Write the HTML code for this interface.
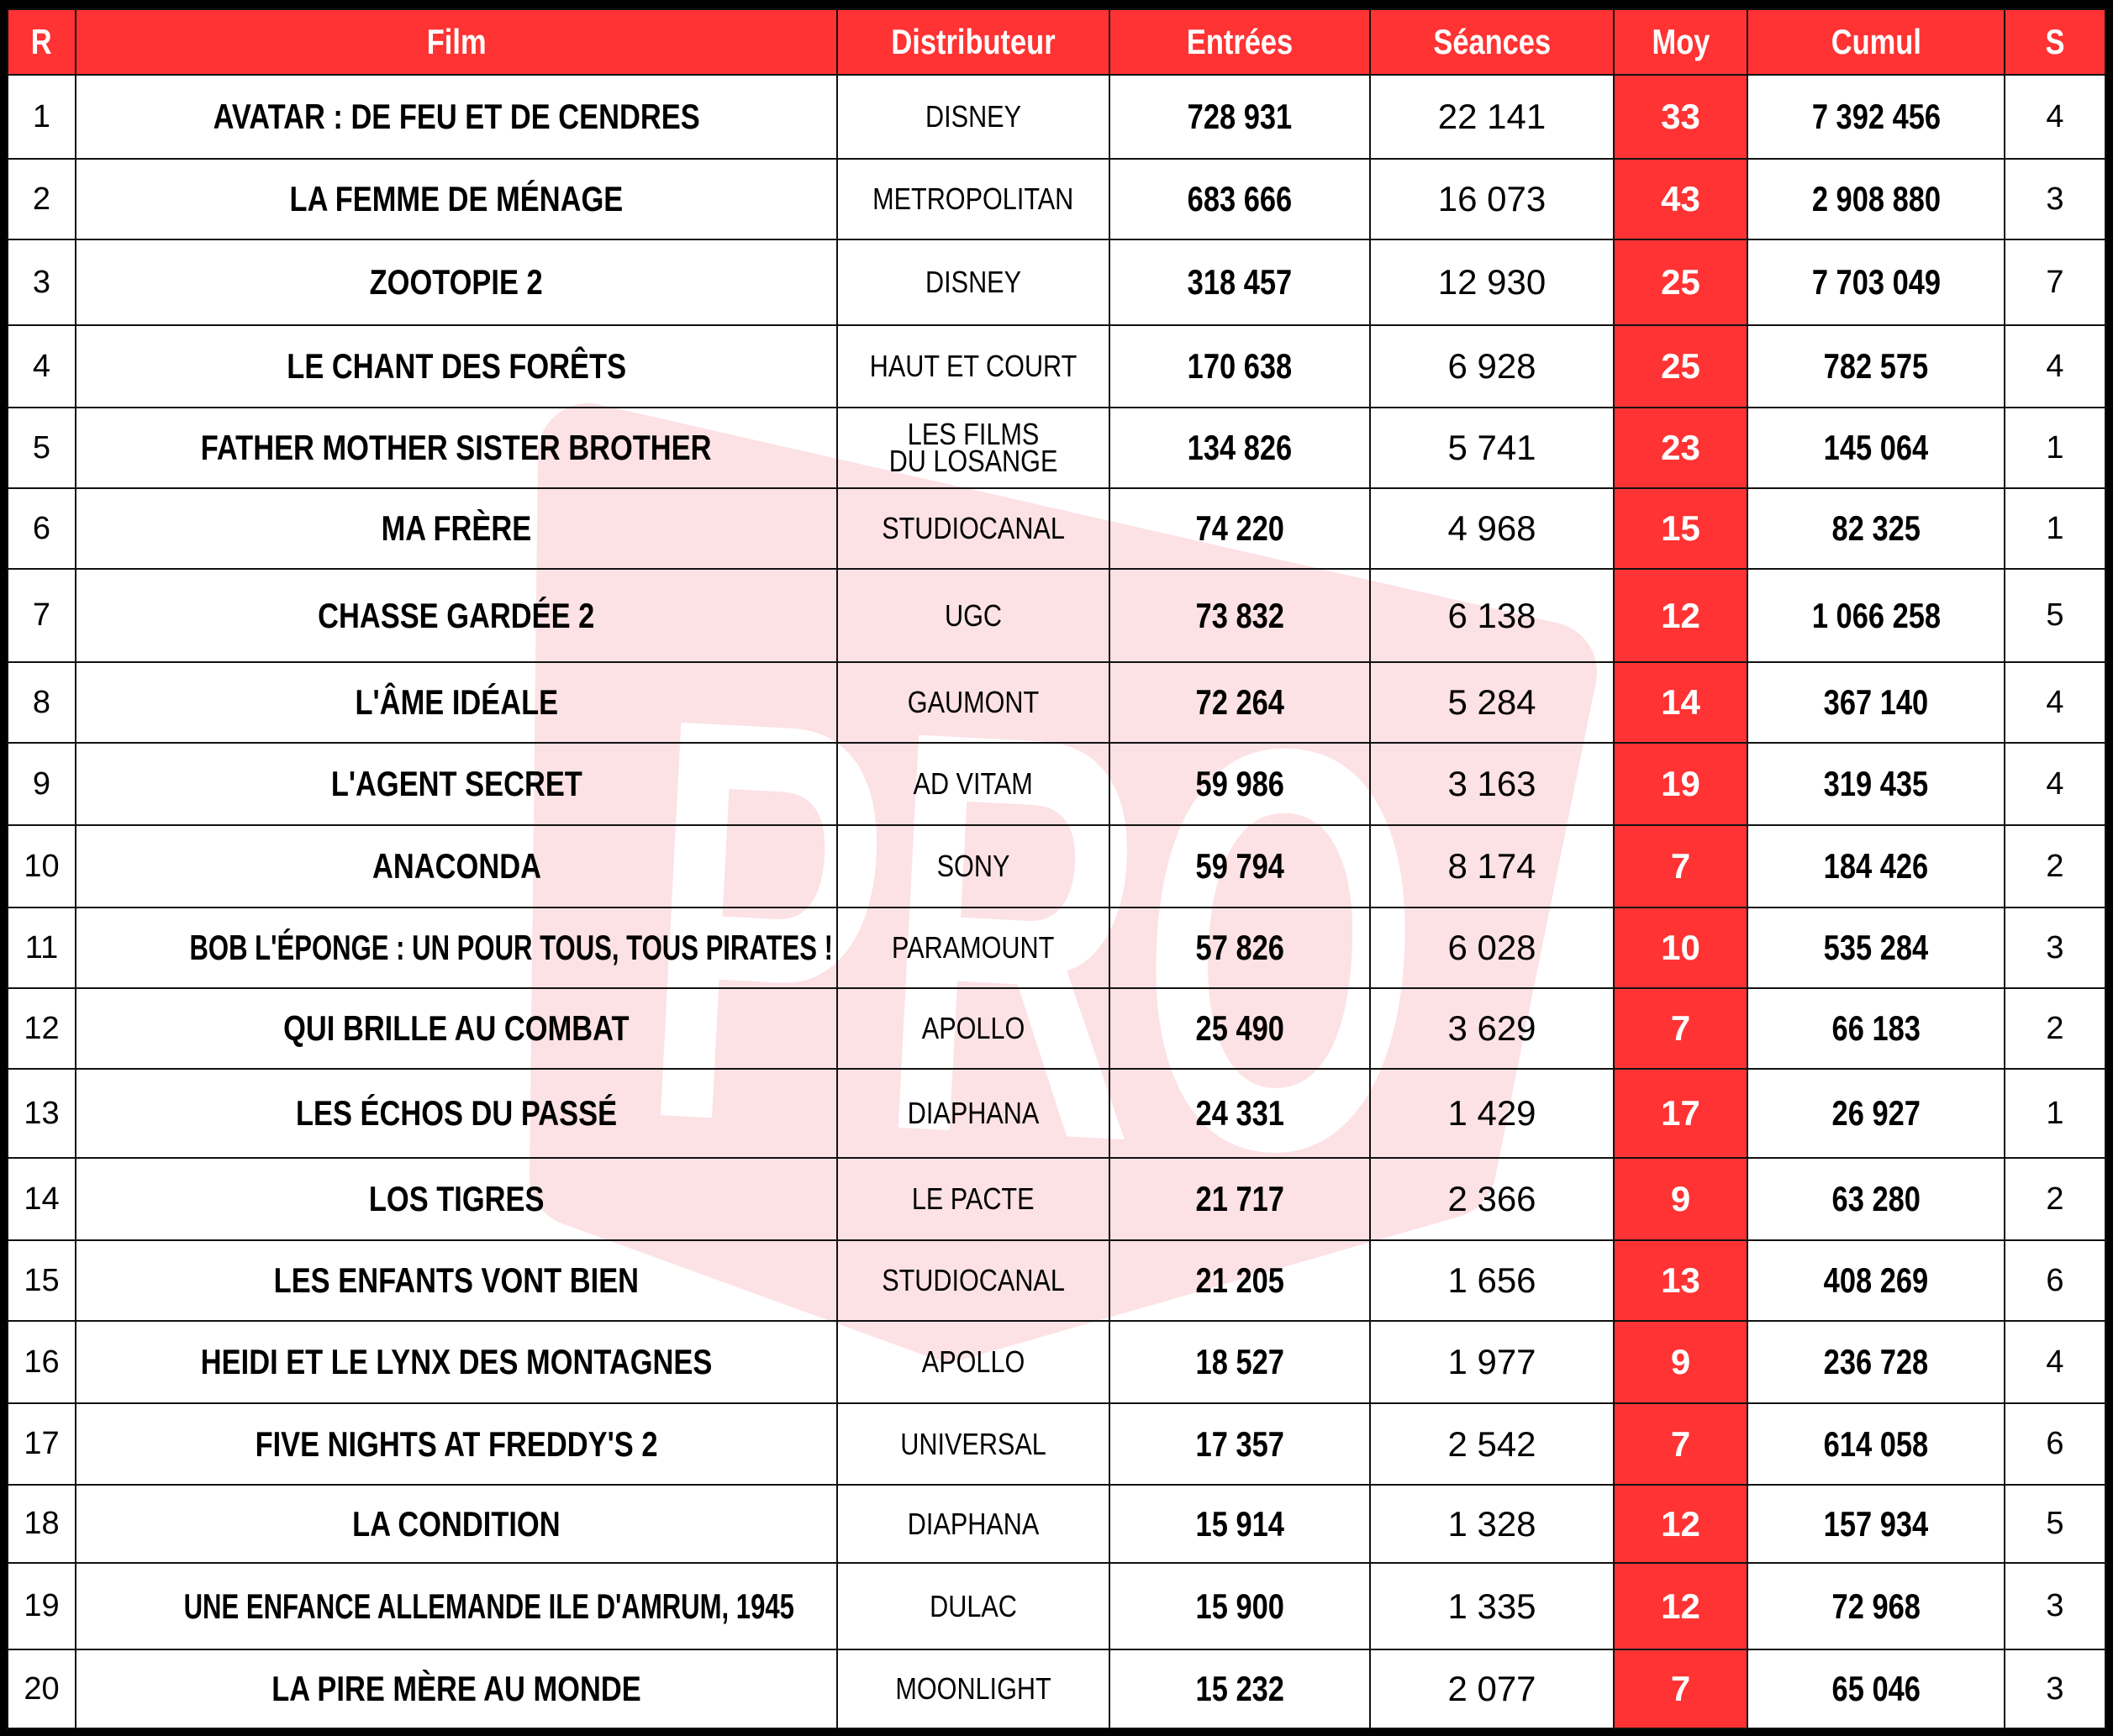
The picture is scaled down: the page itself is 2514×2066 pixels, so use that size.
<!DOCTYPE html>
<html><head><meta charset="utf-8"><style>
html,body{margin:0;padding:0;}
body{width:2514px;height:2066px;background:#000;position:relative;overflow:hidden;font-family:"Liberation Sans",sans-serif;}
#wm{position:absolute;left:0;top:0;z-index:1;pointer-events:none;}
#bg{position:absolute;left:8px;top:10px;width:2496px;height:2046px;background:#fff;z-index:0;}
table{position:absolute;left:8px;top:10px;border-collapse:collapse;table-layout:fixed;z-index:2;width:2496px;}
td{border:2px solid #111;text-align:center;vertical-align:middle;padding:0;color:#000;white-space:nowrap;overflow:hidden;background:transparent;}
tr.h td{background:#ff3333;color:#fff;font-weight:bold;font-size:42px;}
.t{font-weight:bold;font-size:42px;}
.t span,.n span,.d span,tr.h span{display:inline-block;transform:scaleX(.82);}
.t span.w{transform:scaleX(.74);}
.d{font-size:36px;}
.d span{transform:scaleX(.85);}
.n{font-weight:bold;font-size:42px;}
.s{font-size:42px;}
.r{font-size:38px;}
td.m{background:#ff3333;color:#fff;font-weight:bold;font-size:42px;}
</style></head><body>
<div id="bg"></div>
<svg id="wm" width="2514" height="2066">
<path d="M700,540 L1840,800 L1720,1390 L1130,1560 L690,1400 Z" fill="#fce1e5" stroke="#fce1e5" stroke-width="120" stroke-linejoin="round"/>
<text x="1230" y="1350" text-anchor="middle" font-family="Liberation Sans" font-weight="bold" font-size="680" fill="#fff" transform="rotate(3 1230 1100)" textLength="920" lengthAdjust="spacingAndGlyphs">PRO</text>
</svg>
<table>
<colgroup><col style="width:81px"><col style="width:906px"><col style="width:324px"><col style="width:310px"><col style="width:290px"><col style="width:159px"><col style="width:306px"><col style="width:120px"></colgroup>
<tr class="h" style="height:78px"><td><span>R</span></td><td><span>Film</span></td><td><span>Distributeur</span></td><td><span>Entrées</span></td><td><span>Séances</span></td><td><span>Moy</span></td><td><span>Cumul</span></td><td><span>S</span></td></tr>
<tr style="height:100px"><td class="r">1</td><td class="t"><span>AVATAR : DE FEU ET DE CENDRES</span></td><td class="d"><span>DISNEY</span></td><td class="n"><span>728 931</span></td><td class="s">22 141</td><td class="m">33</td><td class="n"><span>7 392 456</span></td><td class="r">4</td></tr>
<tr style="height:96px"><td class="r">2</td><td class="t"><span>LA FEMME DE MÉNAGE</span></td><td class="d"><span>METROPOLITAN</span></td><td class="n"><span>683 666</span></td><td class="s">16 073</td><td class="m">43</td><td class="n"><span>2 908 880</span></td><td class="r">3</td></tr>
<tr style="height:102px"><td class="r">3</td><td class="t"><span>ZOOTOPIE 2</span></td><td class="d"><span>DISNEY</span></td><td class="n"><span>318 457</span></td><td class="s">12 930</td><td class="m">25</td><td class="n"><span>7 703 049</span></td><td class="r">7</td></tr>
<tr style="height:98px"><td class="r">4</td><td class="t"><span>LE CHANT DES FORÊTS</span></td><td class="d"><span>HAUT ET COURT</span></td><td class="n"><span>170 638</span></td><td class="s">6 928</td><td class="m">25</td><td class="n"><span>782 575</span></td><td class="r">4</td></tr>
<tr style="height:96px"><td class="r">5</td><td class="t"><span>FATHER MOTHER SISTER BROTHER</span></td><td class="d" style="line-height:32px"><span>LES FILMS<br>DU LOSANGE</span></td><td class="n"><span>134 826</span></td><td class="s">5 741</td><td class="m">23</td><td class="n"><span>145 064</span></td><td class="r">1</td></tr>
<tr style="height:96px"><td class="r">6</td><td class="t"><span>MA FRÈRE</span></td><td class="d"><span>STUDIOCANAL</span></td><td class="n"><span>74 220</span></td><td class="s">4 968</td><td class="m">15</td><td class="n"><span>82 325</span></td><td class="r">1</td></tr>
<tr style="height:111px"><td class="r">7</td><td class="t"><span>CHASSE GARDÉE 2</span></td><td class="d"><span>UGC</span></td><td class="n"><span>73 832</span></td><td class="s">6 138</td><td class="m">12</td><td class="n"><span>1 066 258</span></td><td class="r">5</td></tr>
<tr style="height:96px"><td class="r">8</td><td class="t"><span>L'ÂME IDÉALE</span></td><td class="d"><span>GAUMONT</span></td><td class="n"><span>72 264</span></td><td class="s">5 284</td><td class="m">14</td><td class="n"><span>367 140</span></td><td class="r">4</td></tr>
<tr style="height:98px"><td class="r">9</td><td class="t"><span>L'AGENT SECRET</span></td><td class="d"><span>AD VITAM</span></td><td class="n"><span>59 986</span></td><td class="s">3 163</td><td class="m">19</td><td class="n"><span>319 435</span></td><td class="r">4</td></tr>
<tr style="height:98px"><td class="r">10</td><td class="t"><span>ANACONDA</span></td><td class="d"><span>SONY</span></td><td class="n"><span>59 794</span></td><td class="s">8 174</td><td class="m">7</td><td class="n"><span>184 426</span></td><td class="r">2</td></tr>
<tr style="height:96px"><td class="r">11</td><td class="t"><span class="w">BOB L'ÉPONGE : UN POUR TOUS, TOUS PIRATES !</span></td><td class="d"><span>PARAMOUNT</span></td><td class="n"><span>57 826</span></td><td class="s">6 028</td><td class="m">10</td><td class="n"><span>535 284</span></td><td class="r">3</td></tr>
<tr style="height:96px"><td class="r">12</td><td class="t"><span>QUI BRILLE AU COMBAT</span></td><td class="d"><span>APOLLO</span></td><td class="n"><span>25 490</span></td><td class="s">3 629</td><td class="m">7</td><td class="n"><span>66 183</span></td><td class="r">2</td></tr>
<tr style="height:106px"><td class="r">13</td><td class="t"><span>LES ÉCHOS DU PASSÉ</span></td><td class="d"><span>DIAPHANA</span></td><td class="n"><span>24 331</span></td><td class="s">1 429</td><td class="m">17</td><td class="n"><span>26 927</span></td><td class="r">1</td></tr>
<tr style="height:98px"><td class="r">14</td><td class="t"><span>LOS TIGRES</span></td><td class="d"><span>LE PACTE</span></td><td class="n"><span>21 717</span></td><td class="s">2 366</td><td class="m">9</td><td class="n"><span>63 280</span></td><td class="r">2</td></tr>
<tr style="height:96px"><td class="r">15</td><td class="t"><span>LES ENFANTS VONT BIEN</span></td><td class="d"><span>STUDIOCANAL</span></td><td class="n"><span>21 205</span></td><td class="s">1 656</td><td class="m">13</td><td class="n"><span>408 269</span></td><td class="r">6</td></tr>
<tr style="height:98px"><td class="r">16</td><td class="t"><span>HEIDI ET LE LYNX DES MONTAGNES</span></td><td class="d"><span>APOLLO</span></td><td class="n"><span>18 527</span></td><td class="s">1 977</td><td class="m">9</td><td class="n"><span>236 728</span></td><td class="r">4</td></tr>
<tr style="height:97px"><td class="r">17</td><td class="t"><span>FIVE NIGHTS AT FREDDY'S 2</span></td><td class="d"><span>UNIVERSAL</span></td><td class="n"><span>17 357</span></td><td class="s">2 542</td><td class="m">7</td><td class="n"><span>614 058</span></td><td class="r">6</td></tr>
<tr style="height:93px"><td class="r">18</td><td class="t"><span>LA CONDITION</span></td><td class="d"><span>DIAPHANA</span></td><td class="n"><span>15 914</span></td><td class="s">1 328</td><td class="m">12</td><td class="n"><span>157 934</span></td><td class="r">5</td></tr>
<tr style="height:103px"><td class="r">19</td><td class="t"><span class="w">UNE ENFANCE ALLEMANDE ILE D'AMRUM, 1945</span></td><td class="d"><span>DULAC</span></td><td class="n"><span>15 900</span></td><td class="s">1 335</td><td class="m">12</td><td class="n"><span>72 968</span></td><td class="r">3</td></tr>
<tr style="height:94px"><td class="r">20</td><td class="t"><span>LA PIRE MÈRE AU MONDE</span></td><td class="d"><span>MOONLIGHT</span></td><td class="n"><span>15 232</span></td><td class="s">2 077</td><td class="m">7</td><td class="n"><span>65 046</span></td><td class="r">3</td></tr>
</table>
</body></html>
